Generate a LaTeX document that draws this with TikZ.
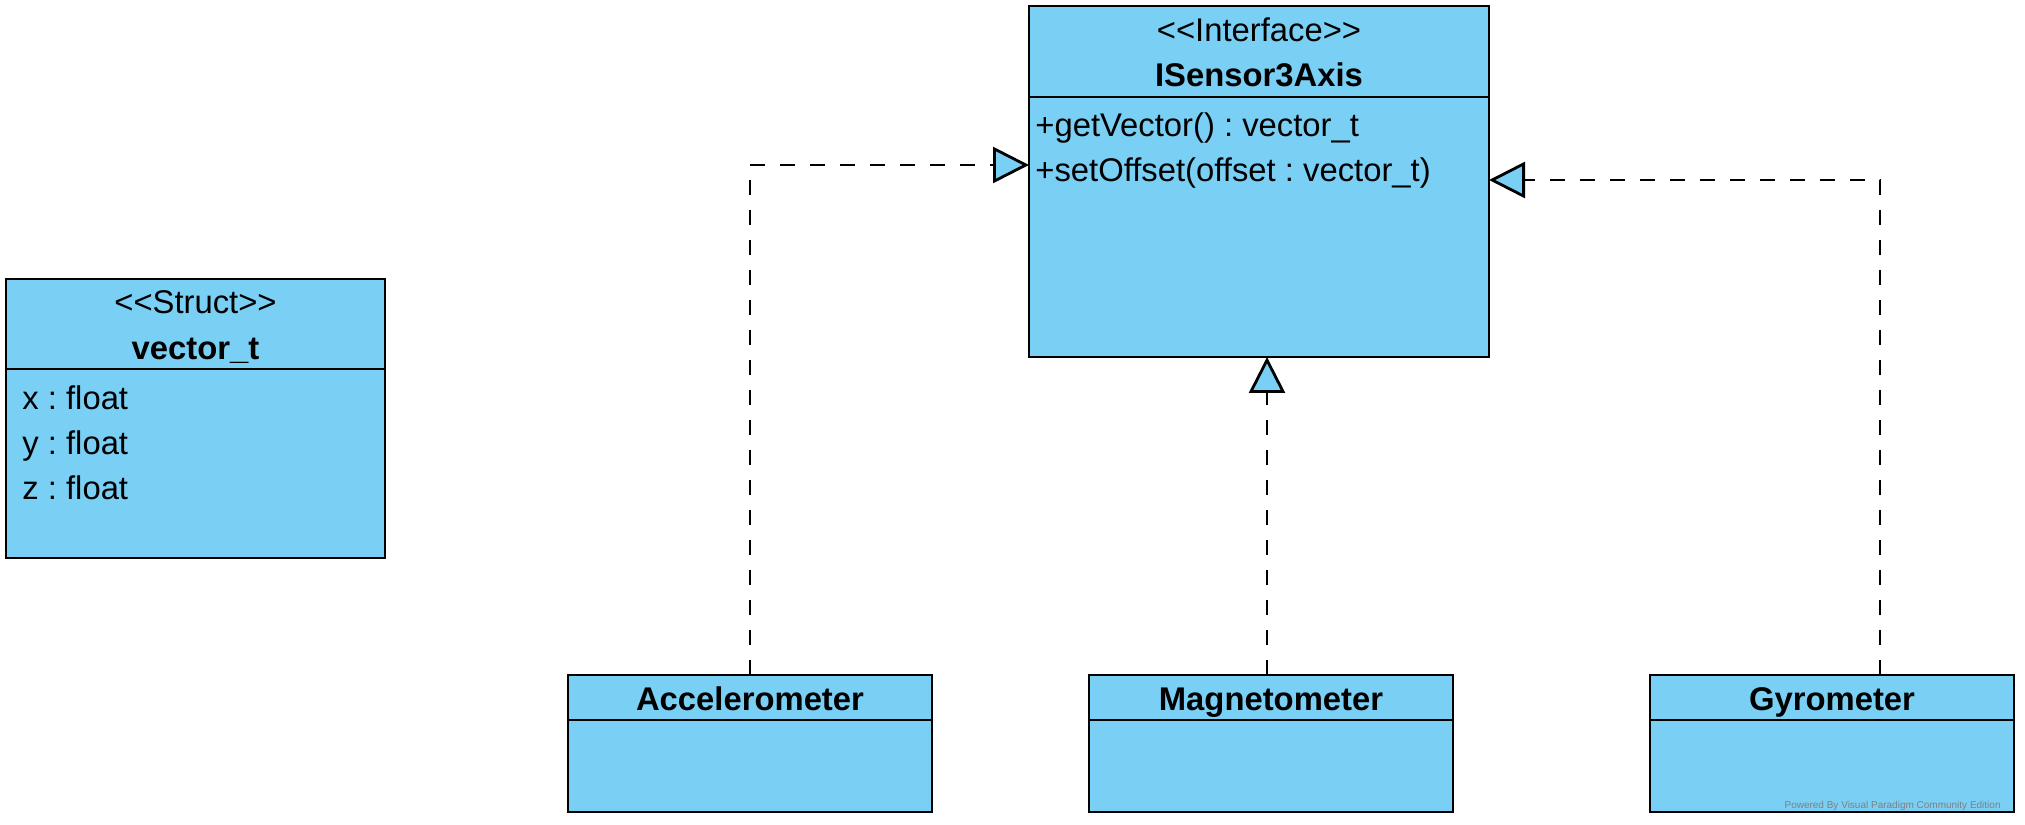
\documentclass[tikz,border=0pt]{standalone}
\usepackage{fontspec}
\setmainfont{Liberation Sans}
\usetikzlibrary{positioning,arrows.meta}
\definecolor{umlblue}{RGB}{122,207,244}
\frenchspacing

\begin{document}
\begin{tikzpicture}[x=1pt,y=1pt,
	umlbox/.style={draw, fill=umlblue, line width=1.4pt, inner sep=0pt, outer sep=0pt, anchor=north west},
	umltext/.style={inner sep=0pt, font=\fontsize{16.4}{19}\selectfont},
	umlname/.style={inner sep=0pt, anchor=base, font=\fontsize{16.4}{19}\selectfont\bfseries},
	realize/.style={dash pattern=on 7.5pt off 7.5pt, line width=1.4pt, -{Triangle[open, fill=umlblue, length=18pt, width=18pt]}}]
		\useasboundingbox (0,0) rectangle (1012.5,412.5);
		% struct vector_t
		\node[umlbox, minimum width=189.5pt, minimum height=45pt] (vechead) at (3,273) {};
		\node[umlbox, minimum width=189.5pt, minimum height=94.5pt, below=0pt of vechead] (vec) {};
		\node[umltext, anchor=base] (vecstereo) at ([yshift=-17.5pt]vechead.north) {{<}{<}Struct{>}{>}};
		\node[umlname] (vecname) at ([yshift=-40.5pt]vechead.north) {vector\_t};
		\node[umltext, anchor=base west] (vecx) at ([xshift=8pt,yshift=-20.5pt]vec.north west) {x : float};
		\node[umltext, anchor=base west] (vecy) at ([xshift=8pt,yshift=-43pt]vec.north west) {y : float};
		\node[umltext, anchor=base west] (vecz) at ([xshift=8pt,yshift=-65.5pt]vec.north west) {z : float};
		% interface
		\node[umlbox, minimum width=230pt, minimum height=45.5pt] (isensorhead) at (514.5,409.5) {};
		\node[umlbox, minimum width=230pt, minimum height=130pt, below=0pt of isensorhead] (isensor) {};
		\node[umltext, anchor=base] (isensorstereo) at ([yshift=-18pt]isensorhead.north) {{<}{<}Interface{>}{>}};
		\node[umlname] (isensorname) at ([yshift=-40.5pt]isensorhead.north) {ISensor3Axis};
		\node[umltext, anchor=base west] (getvec) at ([xshift=3pt,yshift=-20pt]isensor.north west) {+getVector() : vector\_t};
		\node[umltext, anchor=base west] (setoff) at ([xshift=3pt,yshift=-42.5pt]isensor.north west) {+setOffset(offset : vector\_t)};
		% sensors
		\node[umlbox, minimum width=182pt, minimum height=22.5pt] (accelhead) at (284,75) {};
		\node[umlbox, minimum width=182pt, minimum height=46pt, below=0pt of accelhead] (accel) {};
		\node[umlname] (accelname) at ([yshift=-18pt]accelhead.north) {Accelerometer};
		\node[umlbox, minimum width=182pt, minimum height=22.5pt] (magnetohead) at (544.5,75) {};
		\node[umlbox, minimum width=182pt, minimum height=46pt, below=0pt of magnetohead] (magneto) {};
		\node[umlname] (magnetoname) at ([yshift=-18pt]magnetohead.north) {Magnetometer};
		\node[umlbox, minimum width=182pt, minimum height=22.5pt] (gyrohead) at (825,75) {};
		\node[umlbox, minimum width=182pt, minimum height=46pt, below=0pt of gyrohead] (gyro) {};
		\node[umlname] (gyroname) at ([yshift=-18pt]gyrohead.north) {Gyrometer};
		\node[inner sep=0pt, anchor=base east, text=gray, font=\fontsize{5}{6}\selectfont] (watermark) at (1000.5,8.5) {Powered By Visual Paradigm Community Edition};
		% realizations
		\draw[realize] (accelhead.north) |- ([yshift=31pt]isensor.west);
		\draw[realize] ([xshift=-2pt]magnetohead.north) -- ([xshift=-2pt]magnetohead.north |- isensor.south);
		\draw[realize] ([xshift=24pt]gyrohead.north) |- ([yshift=23.5pt]isensor.east);
	\end{tikzpicture}
\end{document}
